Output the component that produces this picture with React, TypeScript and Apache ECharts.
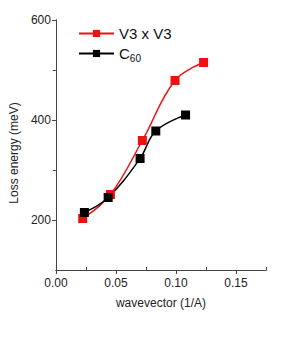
import React, { useEffect, useRef } from "react";
import * as echarts from "echarts";

const redX = [0.0223, 0.0454, 0.072, 0.0992, 0.123];
const redY = [203, 251, 359, 479, 515];
const blackX = [0.0237, 0.0435, 0.0701, 0.0832, 0.108];
const blackY = [215, 245, 323, 378, 410];
const xMajor = [0, 0.05, 0.1, 0.15];
const xMinor = [0.025, 0.075, 0.125, 0.175];
const yMajor = [200, 400, 600];
const yMinor = [300, 500];

const pair = (xs: number[], ys: number[]) => xs.map((x, i) => [x, ys[i]]);

export default function App() {
  const ref = useRef<HTMLDivElement>(null);
  useEffect(() => {
    if (!ref.current) return;
    const chart = echarts.init(ref.current, null, { renderer: "svg" });
    const font = "Liberation Sans, Arial, sans-serif";
    const baseX = {
      type: "value",
      min: 0,
      max: 0.175,
      axisLine: { show: true, onZero: false, lineStyle: { color: "#444", width: 1 } },
      splitLine: { show: false },
    };
    const baseY = {
      type: "value",
      min: 100,
      max: 600,
      axisLine: { show: true, onZero: false, lineStyle: { color: "#444", width: 1 } },
      splitLine: { show: false },
    };
    chart.setOption({
      animation: false,
      grid: { left: 51, top: 20, right: 16, bottom: 68, containLabel: false },
      legend: {
        left: 73,
        top: 21,
        orient: "vertical",
        itemWidth: 35,
        itemHeight: 9,
        itemGap: 5,
        data: ["V3 x V3", "C60"],
        formatter: (name: string) => (name === "C60" ? "{a|C}{b|60}" : "{a|" + name + "}"),
        textStyle: {
          rich: {
            a: { fontSize: 15, fontFamily: font, color: "#111", padding: [0, 0, 0, 0] },
            b: { fontSize: 10, fontFamily: font, color: "#111", padding: [10, 0, 0, 0] },
          },
        },
      },
      xAxis: [
        {
          ...baseX,
          name: "wavevector (1/A)",
          nameLocation: "middle",
          nameGap: 27,
          nameTextStyle: { fontSize: 12, fontFamily: font, color: "#222" },
          axisTick: { show: true, customValues: xMajor, length: 4, lineStyle: { color: "#444" } },
          axisLabel: {
            customValues: xMajor,
            fontSize: 12,
            fontFamily: font,
            color: "#222",
            margin: 7,
            formatter: (v: number) => v.toFixed(2),
          },
        },
        {
          ...baseX,
          position: "bottom",
          axisTick: { show: true, customValues: xMinor, length: 3, inside: true, lineStyle: { color: "#444" } },
          axisLabel: { show: false },
        },
      ],
      yAxis: [
        {
          ...baseY,
          name: "Loss energy (meV)",
          nameLocation: "middle",
          nameGap: 32,
          nameTextStyle: { fontSize: 12, fontFamily: font, color: "#222", padding: [0, 16, 0, 0] },
          axisTick: { show: true, customValues: yMajor, length: 4, lineStyle: { color: "#444" } },
          axisLabel: {
            customValues: yMajor,
            fontSize: 12,
            fontFamily: font,
            color: "#222",
            margin: 5,
          },
        },
        {
          ...baseY,
          position: "left",
          axisTick: { show: true, customValues: yMinor, length: 3, lineStyle: { color: "#444" } },
          axisLabel: { show: false },
        },
      ],
      series: [
        {
          name: "V3 x V3",
          type: "line",
          data: pair(redX, redY),
          smooth: 0.4,
          symbol: "rect",
          symbolSize: 9,
          itemStyle: { color: "#ee1111" },
          lineStyle: { color: "#ee1111", width: 1.5 },
        },
        {
          name: "C60",
          type: "line",
          data: pair(blackX, blackY),
          smooth: 0.4,
          symbol: "rect",
          symbolSize: 9,
          itemStyle: { color: "#000" },
          lineStyle: { color: "#000", width: 1.5 },
        },
      ],
    });
    return () => chart.dispose();
  }, []);
  return <div ref={ref} style={{ width: 282, height: 338, position: "absolute", left: 0, top: 0, background: "#fff" }} />;
}
